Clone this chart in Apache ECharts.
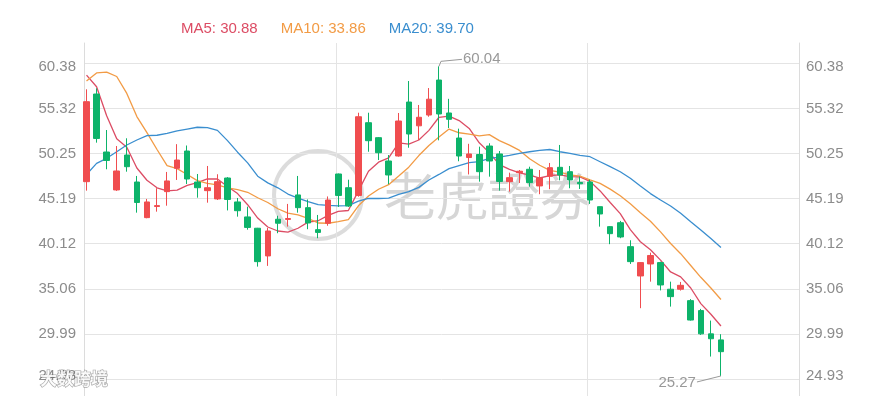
<!DOCTYPE html>
<html><head><meta charset="utf-8">
<script src="https://cdn.jsdelivr.net/npm/echarts@6/dist/echarts.min.js"></script>
<style>html,body{margin:0;padding:0;background:#fff}#c{width:878px;height:396px}</style>
</head><body><div id="c"></div>
<script>
// ---- data ----
const opens = [47.09,56.93,50.42,46.16,50.08,47.05,43.05,44.30,45.97,48.59,
50.53,47.05,46.08,45.15,47.50,44.81,43.13,41.86,38.75,42.87,
42.85,45.60,44.17,41.70,42.42,47.95,46.41,45.54,53.71,52.03,
49.41,49.97,56.03,53.36,54.57,58.50,54.80,51.99,49.80,50.14,
51.09,50.20,47.09,48.10,48.48,46.61,47.69,48.70,48.21,47.00,
47.05,44.28,42.04,42.48,39.79,36.50,37.85,38.00,35.01,35.01,
33.73,32.61,30.00,29.32];
const closes = [56.07,51.94,49.47,48.29,48.77,44.75,44.81,44.40,47.17,49.52,
47.39,46.41,46.41,47.09,45.09,43.83,41.95,38.11,41.55,42.42,
42.95,44.17,42.45,41.39,45.03,45.54,44.36,54.38,51.69,50.34,
47.84,53.90,52.44,54.32,56.35,54.69,54.09,49.97,50.20,48.21,
49.41,47.11,47.54,48.26,46.98,47.50,48.66,47.84,47.28,46.85,
45.03,43.46,41.25,40.88,38.11,38.00,38.80,35.49,34.18,35.45,
31.55,30.00,29.45,28.00];
const lows = [46.08,51.47,48.48,46.05,48.21,43.61,42.98,43.72,44.39,47.28,
46.83,45.29,44.73,45.03,43.86,43.16,41.70,37.55,37.63,41.30,
42.04,43.61,41.75,40.74,42.14,44.25,44.25,45.40,50.45,49.52,
46.80,49.90,50.90,51.77,54.38,51.73,53.11,49.38,47.90,47.09,
47.65,46.08,45.97,46.94,46.53,45.68,46.24,47.24,46.35,46.27,
44.59,42.04,40.07,40.74,37.85,32.88,35.86,34.88,33.06,34.86,
31.49,29.88,27.45,25.27];
const highs = [57.46,57.57,52.89,51.09,51.96,47.73,45.15,46.35,48.18,51.30,
51.15,47.95,48.85,47.92,47.60,45.26,44.28,41.90,41.89,43.26,
44.59,47.73,45.09,43.35,45.43,48.00,47.31,54.83,54.83,52.10,
50.08,54.80,58.39,55.70,57.60,60.04,56.39,53.04,51.34,51.02,
51.40,50.53,48.10,48.40,48.77,48.40,49.19,51.21,48.85,47.67,
47.31,44.30,42.10,42.68,40.51,38.05,39.12,38.10,35.86,35.83,
33.90,32.80,31.49,29.96];
const ma5 = [59.06,57.75,54.5,51.9,50.95,48.62,47.25,46.4,46.05,46.14,
46.68,46.99,47.39,47.4,46.55,45.75,44.5,43.0,42.0,41.55,
41.42,41.86,42.55,42.7,43.3,43.75,43.85,46.05,48.25,49.28,
49.76,51.45,51.3,51.77,52.85,54.32,54.45,53.95,53.07,51.45,
50.35,49.0,48.47,48.07,47.83,47.5,47.78,47.85,47.66,47.62,
47.12,46.05,44.75,43.5,41.7,40.34,39.45,38.28,36.95,36.4,
35.15,33.4,32.2,30.88];
const ma10 = [58.4,59.3,59.4,58.9,57.0,54.4,52.6,50.7,48.9,48.55,
47.9,47.2,46.9,46.72,46.4,46.2,45.9,45.28,44.75,44.05,
43.56,43.35,42.97,42.45,42.42,42.6,42.82,44.38,45.48,46.24,
46.75,47.72,48.72,50.02,51.15,52.1,53.0,52.58,52.42,52.22,
52.37,51.7,51.19,50.6,49.67,48.93,48.36,48.15,47.86,47.7,
47.28,46.9,46.25,45.5,44.6,43.6,42.65,41.45,40.15,39.0,
37.68,36.35,35.15,33.86];
const ma20 = [47.9,49.15,49.71,50.45,51.21,51.77,52.25,52.3,52.52,52.78,
53.0,53.2,53.15,52.85,51.7,50.4,49.2,47.7,46.95,46.4,
45.7,45.25,44.85,44.5,44.42,44.36,44.4,44.9,45.2,45.2,
45.25,45.65,45.97,46.45,47.28,47.9,48.55,48.9,49.22,49.35,
49.7,49.85,50.05,50.27,50.45,50.6,50.7,50.45,50.27,50.05,
49.89,49.33,48.77,48.2,47.47,46.6,45.75,45.03,44.36,43.54,
42.6,41.67,40.7,39.70];
const yTickLabels = [24.93, 29.99, 35.06, 40.12, 45.19, 50.25, 55.32, 60.38];
const maNames = ['MA5', 'MA10', 'MA20'];

// ---- styling / layout ----
const UP = '#f04d4f', DOWN = '#0db36a';
const MA_COLORS = ['#dc4c64', '#f29b45', '#3a8ecf'];
const FONT = 'Liberation Sans';
const SLOTS = 71;        // horizontal slots in the plot (candles + empty room on the right)
const OFF = 0.25;        // candle offset inside a slot
const yStep = (yTickLabels[yTickLabels.length - 1] - yTickLabels[0]) / (yTickLabels.length - 1);
const yMin = yTickLabels[0] - yStep;
const yMax = 62.66;

const chart = echarts.init(document.getElementById('c'), null, {renderer: 'canvas'});

function labelFor(v) {
  let best = null;
  yTickLabels.forEach(t => { if (Math.abs(t - v) < 0.01) best = t; });
  if (best === null) return '';
  const s = best.toFixed(2);
  if (best === yTickLabels[yTickLabels.length - 1]) return '{t|' + s + '}';
  if (best === yTickLabels[0]) return '{b|' + s + '}';
  return '{n|' + s + '}';
}
const labelRich = {
  n: {fontSize: 15, color: '#8c8c8c', fontFamily: FONT},
  t: {fontSize: 15, color: '#8c8c8c', fontFamily: FONT, padding: [8, 0, 0, 0]},
  b: {fontSize: 15, color: '#8c8c8c', fontFamily: FONT, padding: [0, 0, 7, 0]}
};
function yAxis(pos) {
  return {
    type: 'value', position: pos, min: yMin, max: yMax, interval: yStep,
    axisLine: {show: true, lineStyle: {color: '#dcdcdc', width: 1}},
    axisTick: {show: false},
    axisLabel: {formatter: labelFor, rich: labelRich, margin: pos === 'left' ? 8 : 7},
    splitLine: {show: pos === 'left', showMaxLine: false, lineStyle: {color: '#e4e4e4', width: 1}}
  };
}

const candleData = opens.map((o, i) => [i + OFF, o, closes[i], lows[i], highs[i]]);
const maSeries = [ma5, ma10, ma20].map((arr, k) => ({
  name: maNames[k], type: 'line', xAxisIndex: 0, yAxisIndex: 0,
  data: arr.map((v, i) => [i + OFF, v]),
  showSymbol: false, symbol: 'none', smooth: false, clip: false,
  lineStyle: {color: MA_COLORS[k], width: 1.3}, z: 3
}));

const lastVals = [ma5, ma10, ma20].map(a => a[a.length - 1].toFixed(2));

chart.setOption({
  animation: false,
  backgroundColor: '#fff',
  title: {
    left: 181, top: 21, padding: 0,
    text: '{a|' + maNames[0] + ': ' + lastVals[0] + '}{b|' + maNames[1] + ': ' + lastVals[1] + '}{c|' + maNames[2] + ': ' + lastVals[2] + '}',
    textStyle: {
      fontSize: 15, fontWeight: 'normal', fontFamily: FONT,
      rich: {
        a: {fontSize: 15, fontFamily: FONT, color: MA_COLORS[0], padding: [0, 23, 0, 0]},
        b: {fontSize: 15, fontFamily: FONT, color: MA_COLORS[1], padding: [0, 23, 0, 0]},
        c: {fontSize: 15, fontFamily: FONT, color: MA_COLORS[2]}
      }
    }
  },
  grid: {left: 84, width: 715, top: 43, height: 381.1, containLabel: false, outerBoundsMode: 'none'},
  xAxis: {
    type: 'value', min: 0, max: SLOTS, interval: 25,
    axisLine: {show: false}, axisTick: {show: false}, axisLabel: {show: false},
    splitLine: {show: true, lineStyle: {color: '#e4e4e4', width: 1}}
  },
  yAxis: [yAxis('left'), yAxis('right')],
  series: [{
    type: 'candlestick', name: 'K', xAxisIndex: 0, yAxisIndex: 0,
    data: candleData, encode: {x: 0, y: [1, 2, 3, 4]},
    barWidth: 6, clip: false, z: 4,
    itemStyle: {color: UP, color0: DOWN, borderColor: UP, borderColor0: DOWN, borderWidth: 1}
  }].concat(maSeries)
});

// annotations for highest high and lowest low, placed through the chart's own scales
let hiIdx = 0, loIdx = 0;
highs.forEach((h, i) => { if (h > highs[hiIdx]) hiIdx = i; });
lows.forEach((l, i) => { if (l < lows[loIdx]) loIdx = i; });
const pHi = chart.convertToPixel({xAxisIndex: 0, yAxisIndex: 0}, [hiIdx + OFF, highs[hiIdx]]);
const pLo = chart.convertToPixel({xAxisIndex: 0, yAxisIndex: 0}, [loIdx + OFF, lows[loIdx]]);

chart.setOption({
  graphic: [
    {type: 'circle', id: 'wmRing', z: -10, silent: true,
     shape: {cx: 318, cy: 195, r: 44},
     style: {fill: 'none', stroke: 'rgba(130,130,130,0.28)', lineWidth: 4}},
    {type: 'text', id: 'wmText', z: -10, silent: true, x: 384, y: 196,
     style: {text: '老虎證券', font: '52px "Noto Sans CJK TC"', fill: 'rgba(120,120,120,0.30)', verticalAlign: 'middle'}},
    {type: 'text', id: 'wm2', z: 50, silent: true, x: 40, y: 379,
     style: {text: '大数跨境', font: 'bold 17px "Noto Sans CJK SC"', fill: 'rgba(255,255,255,0.85)',
             stroke: 'rgba(90,90,90,0.55)', lineWidth: 1.2, verticalAlign: 'middle'}},
    {type: 'polyline', id: 'hiLine', z: 60, silent: true,
     shape: {points: [[pHi[0], pHi[1]], [pHi[0] + 2, pHi[1] - 5], [pHi[0] + 23, pHi[1] - 7]]},
     style: {stroke: '#999', lineWidth: 1, fill: 'none'}},
    {type: 'text', id: 'hiText', z: 60, silent: true, x: pHi[0] + 24, y: pHi[1] - 7,
     style: {text: highs[hiIdx].toFixed(2), font: '15px "' + FONT + '"', fill: '#999', verticalAlign: 'middle'}},
    {type: 'polyline', id: 'loLine', z: 60, silent: true,
     shape: {points: [[pLo[0], pLo[1]], [pLo[0] - 24, pLo[1] + 6]]},
     style: {stroke: '#999', lineWidth: 1, fill: 'none'}},
    {type: 'text', id: 'loText', z: 60, silent: true, x: pLo[0] - 25, y: pLo[1] + 7,
     style: {text: lows[loIdx].toFixed(2), font: '15px "' + FONT + '"', fill: '#999', align: 'right', verticalAlign: 'middle'}}
  ]
});
</script>
</body></html>
